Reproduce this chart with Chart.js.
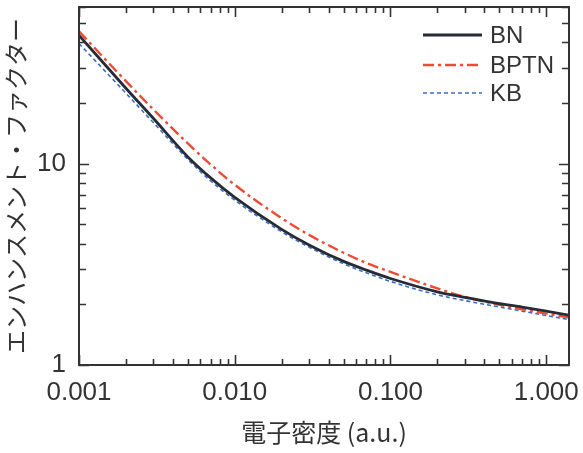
<!DOCTYPE html>
<html>
<head>
<meta charset="utf-8">
<script src="https://cdn.jsdelivr.net/npm/chart.js@4"></script>
<style>
  html, body { margin: 0; padding: 0; background: #fff; }
</style>
</head>
<body>
<canvas id="chart" width="583" height="453"></canvas>
<script>
  // values (log-log)
  const densities  = [0.001, 0.002, 0.003, 0.005, 0.007, 0.01, 0.02, 0.03, 0.05, 0.07, 0.1, 0.2, 0.3, 0.5, 0.7, 1.0, 1.4];
  const bnValues   = [43.4, 23.7, 16.8, 10.8, 8.5, 6.8, 4.72, 3.95, 3.27, 2.96, 2.69, 2.31, 2.17, 2.02, 1.94, 1.85, 1.77];
  const bptnValues = [45.4, 25.7, 18.6, 12.6, 9.91, 7.85, 5.36, 4.43, 3.61, 3.21, 2.90, 2.40, 2.18, 1.99, 1.89, 1.80, 1.72];
  const kbValues   = [39.5, 22.4, 16.0, 10.5, 8.22, 6.59, 4.59, 3.85, 3.18, 2.87, 2.60, 2.23, 2.09, 1.94, 1.85, 1.76, 1.68];
  const xTickValues = [0.001, 0.01, 0.1, 1];
  const yTickValues = [1, 10];

  function toPoints(vals) {
    return densities.map((d, i) => ({ x: d, y: vals[i] }));
  }

  // frame with inward major/minor ticks on all four sides
  const framePlugin = {
    id: 'frame',
    afterDatasetsDraw(chart) {
      const { ctx, chartArea: a, scales } = chart;
      const xs = scales.x, ys = scales.y;
      ctx.save();
      ctx.strokeStyle = '#333';
      ctx.lineWidth = 1.6;
      ctx.beginPath();
      for (let e = -3; e <= 0; e++) {
        for (let m = 1; m <= 9; m++) {
          const v = m * Math.pow(10, e);
          if (v > xs.max) break;
          const px = Math.round(xs.getPixelForValue(v)) + 0.5;
          const len = m === 1 ? 10 : 6;
          ctx.moveTo(px, a.bottom); ctx.lineTo(px, a.bottom - len);
          ctx.moveTo(px, a.top); ctx.lineTo(px, a.top + len);
        }
      }
      for (let e = 0; e <= 1; e++) {
        for (let m = 1; m <= 9; m++) {
          const v = m * Math.pow(10, e);
          if (v > ys.max) break;
          const py = Math.round(ys.getPixelForValue(v)) + 0.5;
          const len = m === 1 ? 10 : 7;
          ctx.moveTo(a.left, py); ctx.lineTo(a.left + len, py);
          ctx.moveTo(a.right, py); ctx.lineTo(a.right - len, py);
        }
      }
      ctx.stroke();
      ctx.lineWidth = 2;
      ctx.strokeRect(a.left, a.top, a.right - a.left, a.bottom - a.top);
      ctx.restore();
    }
  };

  // legend inside the top right corner, line samples keep the dash styles
  const legendPlugin = {
    id: 'insideLegend',
    afterDraw(chart) {
      const { ctx, chartArea: a } = chart;
      const rows = [28, 58, 86];
      ctx.save();
      chart.data.datasets.forEach((ds, i) => {
        const y = a.top + rows[i];
        ctx.strokeStyle = ds.borderColor;
        ctx.lineWidth = ds.borderWidth;
        ctx.setLineDash(ds.borderDash || []);
        ctx.beginPath();
        ctx.moveTo(a.right - 146, y);
        ctx.lineTo(a.right - 87, y);
        ctx.stroke();
        ctx.setLineDash([]);
        ctx.fillStyle = '#333';
        ctx.font = '24px "Liberation Sans", Arial, sans-serif';
        ctx.textBaseline = 'middle';
        ctx.fillText(ds.label, a.right - 79, y + 1);
      });
      ctx.restore();
    }
  };

  new Chart(document.getElementById('chart'), {
    type: 'line',
    data: {
      datasets: [
        {
          label: 'BN',
          data: toPoints(bnValues),
          borderColor: '#262b38',
          borderWidth: 2.8,
          pointRadius: 0,
          cubicInterpolationMode: 'monotone'
        },
        {
          label: 'BPTN',
          data: toPoints(bptnValues),
          borderColor: '#ee4b35',
          borderWidth: 2.4,
          borderDash: [11, 4, 3, 4],
          pointRadius: 0,
          cubicInterpolationMode: 'monotone'
        },
        {
          label: 'KB',
          data: toPoints(kbValues),
          borderColor: '#3b6cc4',
          borderWidth: 1.6,
          borderDash: [4, 3],
          pointRadius: 0,
          cubicInterpolationMode: 'monotone'
        }
      ]
    },
    options: {
      responsive: false,
      animation: false,
      devicePixelRatio: 1,
      layout: { padding: { top: 7, right: 14, left: 0, bottom: 0 } },
      plugins: {
        legend: { display: false },
        tooltip: { enabled: false }
      },
      scales: {
        x: {
          type: 'logarithmic',
          min: 0.001,
          max: 1.4,
          grid: { display: false, drawTicks: false },
          border: { display: false },
          afterBuildTicks: s => { s.ticks = xTickValues.map(v => ({ value: v })); },
          afterFit: s => {
            s.height = 88;
            s.paddingLeft = 0; s.paddingRight = 0;
          },
          ticks: {
            padding: 12,
            maxRotation: 0,
            color: '#333',
            font: { family: '"Liberation Sans", Arial, sans-serif', size: 26 },
            callback: v => Number(v).toFixed(3)
          },
          title: {
            display: true,
            text: '電子密度 (a.u.)',
            color: '#333',
            font: { family: '"Noto Sans CJK JP", sans-serif', size: 25 },
            padding: { top: 0, bottom: 6 }
          }
        },
        y: {
          type: 'logarithmic',
          min: 1,
          max: 60,
          grid: { display: false, drawTicks: false },
          border: { display: false },
          afterBuildTicks: s => { s.ticks = yTickValues.map(v => ({ value: v })); },
          afterFit: s => {
            s.width = 79;
            s.paddingTop = 0; s.paddingBottom = 0;
          },
          ticks: {
            padding: 13,
            color: '#333',
            font: { family: '"Liberation Sans", Arial, sans-serif', size: 26 },
            callback: v => String(v)
          },
          title: {
            display: true,
            text: 'エンハンスメント・ファクター',
            color: '#333',
            font: { family: '"Noto Sans CJK JP", sans-serif', size: 24 },
            padding: { top: 1, bottom: 0 }
          }
        }
      }
    },
    plugins: [framePlugin, legendPlugin]
  });
</script>
</body>
</html>
